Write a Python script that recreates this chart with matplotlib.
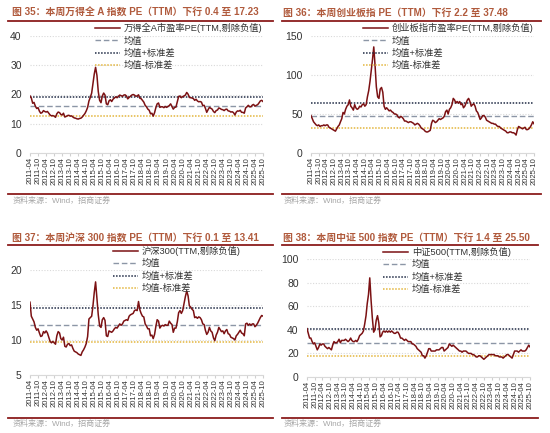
import numpy as np
import pandas as pd
import matplotlib
matplotlib.use("Agg")
from matplotlib import pyplot as plt
from matplotlib.lines import Line2D

plt.rcParams['font.family'] = ['Liberation Sans', 'Noto Sans CJK SC']
plt.rcParams['axes.unicode_minus'] = False

# monthly readings, 2011-04 .. 2025-10
months = pd.date_range('2011-04-01', '2025-10-01', freq='MS')
tick_dates = pd.date_range('2011-04-01', '2025-10-01', freq='6MS')
tick_labels = [d.strftime('%Y-%m') for d in tick_dates]

wind_a_pe = [
    19.5, 18.8, 17.0, 17.3, 16.0, 15.2, 15.5, 14.3, 13.6,                   # 2011
    13.8, 14.5, 14.2, 14.0, 14.2, 13.6, 13.0, 12.7, 12.8, 12.6, 12.2, 13.4,  # 2012
    14.0, 13.8, 13.2, 13.0, 13.6, 12.3, 12.5, 12.8, 12.9, 12.6, 12.7, 12.3,  # 2013
    12.0, 11.9, 11.7, 11.6, 11.8, 11.9, 12.3, 12.9, 13.5, 14.4, 15.6, 17.8,  # 2014
    19.0, 20.5, 23.5, 27.0, 29.3, 26.5, 21.0, 18.0, 17.2, 19.5, 20.5, 19.8,  # 2015
    16.8, 16.5, 17.8, 18.2, 17.6, 18.4, 18.8, 19.2, 18.9, 19.4, 19.8, 19.6,  # 2016
    19.4, 19.8, 19.9, 19.5, 18.5, 19.0, 19.4, 19.8, 20.0, 19.8, 19.4, 19.5,  # 2017
    19.9, 18.7, 18.6, 18.0, 17.4, 16.3, 15.8, 15.0, 14.6, 13.4, 13.6, 12.6,  # 2018
    13.8, 15.6, 16.8, 17.1, 15.6, 15.8, 15.8, 15.5, 15.9, 15.6, 15.9, 16.2,  # 2019
    16.8, 15.9, 15.0, 15.6, 15.7, 17.5, 19.3, 19.5, 18.9, 19.3, 19.5, 19.8,  # 2020
    20.7, 20.1, 19.0, 18.9, 18.8, 18.6, 18.0, 18.4, 17.8, 17.5, 17.6, 17.4,  # 2021
    16.2, 16.3, 15.3, 13.9, 14.8, 15.6, 15.3, 15.0, 14.2, 13.8, 14.5, 14.7,  # 2022
    15.4, 15.2, 14.9, 14.8, 14.5, 14.9, 15.0, 14.4, 14.3, 14.0, 14.1, 13.8,  # 2023
    13.0, 14.0, 14.4, 14.3, 14.6, 13.9, 13.9, 13.6, 15.4, 15.8, 16.3, 15.8,  # 2024
    15.8, 16.4, 16.6, 16.0, 16.3, 16.5, 17.1, 17.8, 18.0, 17.6,              # 2025
]

chinext_pe = [
    48, 44, 40, 38, 36, 35, 36, 34, 35,
    35, 36, 35, 36, 36, 33, 32, 31, 30, 29, 28, 31,
    34, 36, 40, 44, 52, 50, 56, 60, 62, 68, 60, 58,
    55, 62, 58, 56, 57, 60, 59, 62, 63, 60, 62, 72,
    80, 92, 105, 120, 136, 112, 85, 72, 70, 82, 84, 78,
    60, 56, 58, 56, 54, 55, 53, 52, 50, 50, 49, 46,
    45, 47, 46, 44, 41, 41, 40, 39, 40, 40, 39, 38,
    36, 37, 38, 37, 35, 32, 31, 30, 28, 27, 27, 28,
    29, 38, 42, 41, 39, 40, 42, 44, 43, 44, 45, 47,
    53, 55, 50, 56, 58, 62, 70, 68, 64, 66, 64, 66,
    62, 63, 58, 60, 64, 68, 70, 66, 60, 62, 63, 60,
    54, 52, 48, 43, 45, 48, 48, 46, 42, 41, 40, 39,
    38, 38, 37, 37, 35, 34, 34, 32, 31, 30, 29, 28,
    26, 26, 27, 27, 26, 26, 25, 23, 30, 34, 33, 32,
    31, 32, 33, 30, 30, 31, 33, 36, 40, 37.5,
]

hs300_pe = [
    15.4, 13.4, 13.0, 12.6, 11.8, 11.4, 11.6, 11.0, 10.5,
    10.6, 11.2, 11.0, 11.3, 11.0, 10.4, 9.8, 9.6, 9.8, 9.6, 9.4, 10.6,
    11.2, 11.0, 10.2, 10.0, 10.4, 9.1, 9.0, 9.4, 9.5, 9.2, 9.3, 8.8,
    8.4, 8.3, 8.2, 8.0, 7.9, 7.8, 8.3, 8.6, 9.0, 9.5, 10.5, 13.0,
    13.2, 13.4, 14.8, 16.8, 18.3, 16.0, 13.6, 12.0, 11.8, 12.9, 13.2, 12.8,
    10.6, 10.5, 11.3, 11.2, 11.1, 11.3, 11.6, 11.8, 11.7, 12.0, 12.3, 12.1,
    12.3, 12.7, 12.8, 12.9, 12.8, 13.4, 13.6, 13.7, 13.8, 14.2, 14.3, 14.2,
    15.5, 14.3, 13.8, 13.4, 13.3, 12.3, 12.0, 11.6, 11.6, 10.6, 10.7, 10.2,
    10.8, 12.0, 12.9, 12.7, 11.7, 12.0, 12.1, 12.0, 12.2, 12.1, 12.1, 12.7,
    12.4, 12.2, 11.1, 11.7, 11.7, 12.6, 13.9, 14.2, 13.8, 14.2, 15.2, 16.2,
    17.0, 16.3, 14.9, 14.7, 14.4, 14.2, 13.2, 13.3, 13.1, 13.3, 13.2, 12.9,
    12.3, 12.2, 11.4, 10.8, 11.1, 11.8, 11.3, 11.1, 10.3, 9.9, 10.7, 11.1,
    11.8, 11.5, 11.2, 11.3, 10.9, 11.3, 11.5, 10.9, 10.8, 10.4, 10.3, 10.2,
    10.0, 10.6, 10.8, 11.1, 11.4, 11.0, 10.9, 10.6, 12.3, 12.4, 12.1, 12.3,
    12.1, 12.3, 12.3, 11.9, 12.1, 12.4, 12.8, 13.2, 13.5, 13.41,
]

csi500_pe = [
    41, 37, 33, 33, 30, 28, 29, 26, 23,
    25, 28, 27, 28, 28, 26, 25, 24, 25, 24, 23, 27,
    30, 29, 29, 30, 32, 29, 31, 31, 31, 32, 31, 30,
    31, 33, 31, 30, 30, 31, 30, 32, 35, 36, 37, 39,
    45, 52, 62, 70, 84, 65, 50, 38, 40, 48, 52, 46,
    34, 35, 38, 39, 38, 39, 38, 39, 38, 39, 38, 37,
    37, 38, 38, 36, 33, 33, 32, 31, 32, 31, 30, 30,
    30, 28, 28, 27, 26, 24, 23, 22, 21, 18, 18, 16,
    18, 21, 24, 24, 22, 22, 22, 22, 23, 23, 23, 24,
    25, 25, 22, 23, 24, 25, 28, 27, 26, 27, 26, 25,
    24, 23, 22, 22, 21, 22, 22, 22, 21, 20, 20, 20,
    19, 19, 18, 17, 17, 18, 18, 17, 16, 15, 16, 17,
    18, 19, 19, 19, 19, 19, 18, 18, 18, 17, 17, 17,
    16, 17, 18, 19, 19, 18, 17, 16, 19, 22, 22, 22,
    21, 22, 23, 22, 22, 22, 23, 25, 27, 25.5,
]

# mean and mean +/- std
wind_a_bands = (16.0, 19.2, 12.8)
chinext_bands = (48.0, 64.0, 32.0)
hs300_bands = (12.15, 14.6, 9.7)
csi500_bands = (29.0, 40.6, 17.4)

titles = [
    '图 35：本周万得全 A 指数 PE（TTM）下行 0.4 至 17.23',
    '图 36：本周创业板指 PE（TTM）下行 2.2 至 37.48',
    '图 37：本周沪深 300 指数 PE（TTM）下行 0.1 至 13.41',
    '图 38：本周中证 500 指数 PE（TTM）下行 1.4 至 25.50',
]
series_names = [
    '万得全A市盈率PE(TTM,剔除负值)',
    '创业板指市盈率PE(TTM,剔除负值)',
    '沪深300(TTM,剔除负值)',
    '中证500(TTM,剔除负值)',
]
band_names = ['均值', '均值+标准差', '均值-标准差']
source = '资料来源：Wind，招商证券'

W, H = 550, 433
LINE = '#7B1113'
MEAN_C = '#8C96A6'
UP_C = '#1F2A44'
DN_C = '#E3B53C'
TITLE_C = '#B05A3C'
RULE_C = '#8B1C1C'

fig = plt.figure(figsize=(W / 100, H / 100), dpi=100)


def px_axes(left, top, right, bottom):
    return fig.add_axes([left / W, 1 - bottom / H, (right - left) / W, (bottom - top) / H])


def hline(x0, x1, y, color=RULE_C, lw=1.3):
    fig.add_artist(Line2D([x0 / W, x1 / W], [1 - y / H, 1 - y / H],
                          color=color, lw=lw, transform=fig.transFigure))


panels = [
    # values, bands, axes box (px), ylim, yticks, legend anchor (px), title x, frame x-range, y of title/rule/bottom/source
    (wind_a_pe, wind_a_bands, (30, 36, 263, 153), (0, 40), [0, 10, 20, 30, 40], (95, 23), 12, (8, 273), (13, 21, 194, 201)),
    (chinext_pe, chinext_bands, (311, 36, 534, 153), (0, 150), [0, 50, 100, 150], (363, 23), 283, (282, 541), (13, 21, 194, 201)),
    (hs300_pe, hs300_bands, (30, 270, 263, 375), (5, 20), [5, 10, 15, 20], (113, 246), 12, (8, 273), (238, 245, 418, 424)),
    (csi500_pe, csi500_bands, (307, 259, 530, 377), (0, 100), [0, 20, 40, 60, 80, 100], (383, 247), 283, (282, 538), (238, 245, 418, 424)),
]

for i, (vals, bands, box, ylim, yt, leg_xy, tx, frame, ys) in enumerate(panels):
    ax = px_axes(*box)
    mean, up, dn = bands
    main, = ax.plot(months, vals, color=LINE, lw=1.1, zorder=4)
    m = ax.axhline(mean, color=MEAN_C, lw=1.0, ls=(0, (4, 2)), zorder=3)
    u = ax.axhline(up, color=UP_C, lw=1.1, ls=(0, (1, 1)), zorder=3)
    d = ax.axhline(dn, color=DN_C, lw=1.1, ls=(0, (1, 1)), zorder=3)

    ax.set_xlim(months[0], months[-1])
    ax.set_ylim(*ylim)
    ax.set_yticks(yt)
    ax.set_xticks(tick_dates)
    ax.set_xticklabels(tick_labels, rotation=90, fontsize=5.5, color='#333333')
    ax.tick_params(axis='y', length=0, labelsize=7.5, labelcolor='#333333', pad=6)
    ax.tick_params(axis='x', length=2, color='#D0D0D0', pad=1)
    ax.yaxis.grid(True, color='#D9D9D9', lw=0.8, ls=(0, (1, 1.5)))
    ax.set_axisbelow(True)
    for s in ('top', 'right', 'left'):
        ax.spines[s].set_visible(False)
    ax.spines['bottom'].set_color('#D9D9D9')
    ax.patch.set_alpha(0)

    ax.legend([main, m, u, d], [series_names[i]] + band_names,
              loc='upper left', bbox_to_anchor=(leg_xy[0] / W, 1 - leg_xy[1] / H),
              bbox_transform=fig.transFigure, frameon=False, fontsize=6.7,
              handlelength=2.7, handletextpad=0.4, labelspacing=0.35,
              borderpad=0, borderaxespad=0, labelcolor='#333333')

    ty, ry, by, sy = ys
    fig.text(tx / W, 1 - ty / H, titles[i], fontsize=7.1, fontweight='bold',
             color=TITLE_C, ha='left', va='center')
    hline(frame[0], frame[1], ry)
    hline(frame[0], frame[1], by)
    fig.text((tx + 1) / W, 1 - sy / H, source, fontsize=5.8, color='#A6A6A6',
             ha='left', va='center')

fig.savefig('out.png', dpi=100, facecolor='white')
